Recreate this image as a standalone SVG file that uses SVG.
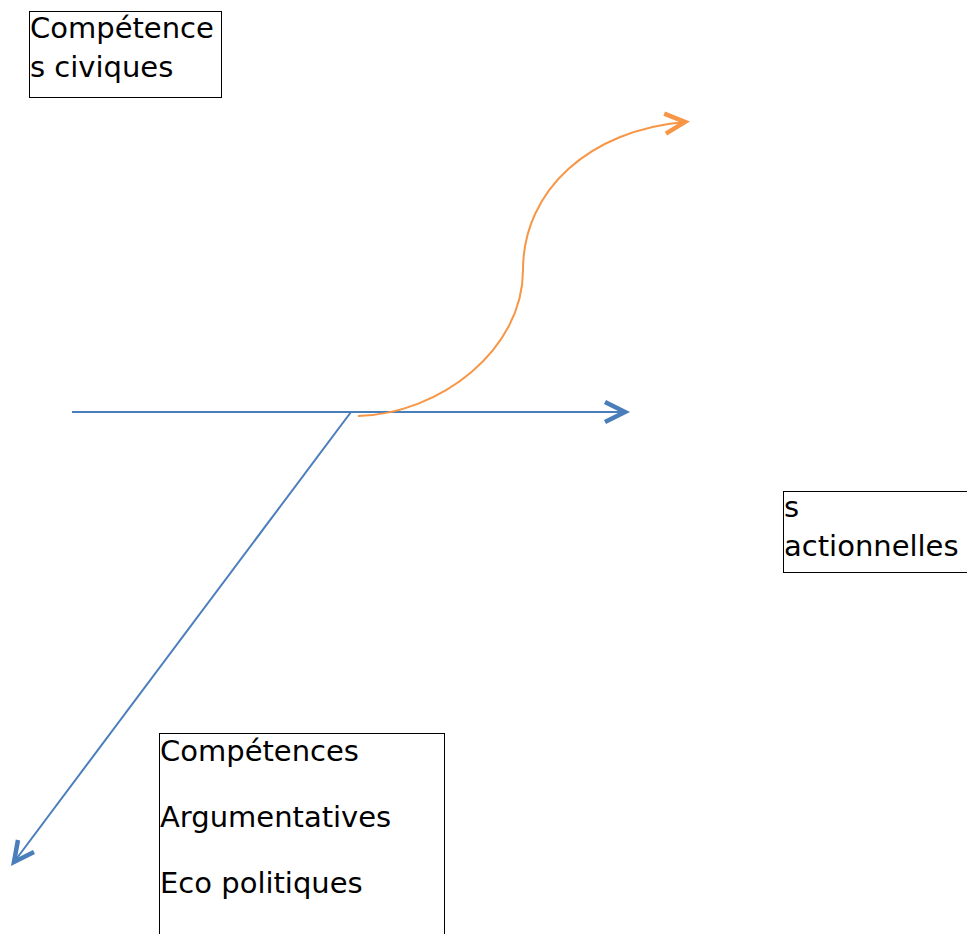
<svg xmlns="http://www.w3.org/2000/svg" width="967" height="934" viewBox="0 0 967 934">
  <style>
    .box { fill: #ffffff; stroke: #000000; stroke-width: 1; }
    .lbl { font-family: "DejaVu Sans", "Liberation Sans", sans-serif; font-size: 29px; fill: #000000; }
    .blue { fill: none; stroke: #4a7ebb; stroke-width: 2; }
    .orange { fill: none; stroke: #f79646; stroke-width: 2; }
  </style>
  <defs>
    <marker id="arrBlue" markerUnits="userSpaceOnUse" orient="auto" markerWidth="32" markerHeight="32" viewBox="-26 -16 32 32" refX="0" refY="0">
      <path d="M-20,-10 L0,0 L-20,10" fill="none" stroke="#4a7ebb" stroke-width="4.5"/>
    </marker>
    <marker id="arrOrange" markerUnits="userSpaceOnUse" orient="auto" markerWidth="32" markerHeight="32" viewBox="-26 -16 32 32" refX="0" refY="0">
      <path d="M-20,-10 L0,0 L-20,10" fill="none" stroke="#f79646" stroke-width="4.5"/>
    </marker>
  </defs>
  <rect width="967" height="934" fill="#ffffff"/>
  <g id="connectors">
    <line class="blue" x1="72" y1="412" x2="625" y2="412" marker-end="url(#arrBlue)"/>
    <line class="blue" x1="351" y1="412" x2="14" y2="862" marker-end="url(#arrBlue)"/>
    <path class="orange" d="M358,416 C440,414 523,350 523,270 C523,190 590,130 685,122" marker-end="url(#arrOrange)"/>
  </g>
  <g id="node-civiques">
    <rect class="box" x="29.5" y="11.5" width="192" height="86"/>
    <text class="lbl" x="30" y="38">Compétence</text>
    <text class="lbl" x="30" y="77">s civiques</text>
  </g>
  <g id="node-actionnelles">
    <rect class="box" x="783.5" y="491.5" width="190" height="81"/>
    <text class="lbl" x="784" y="517">s</text>
    <text class="lbl" x="784" y="556">actionnelles</text>
  </g>
  <g id="node-argumentatives">
    <rect class="box" x="159.5" y="733.5" width="285" height="210"/>
    <text class="lbl" x="160" y="761">Compétences</text>
    <text class="lbl" x="160" y="827">Argumentatives</text>
    <text class="lbl" x="160" y="893">Eco politiques</text>
  </g>
</svg>
